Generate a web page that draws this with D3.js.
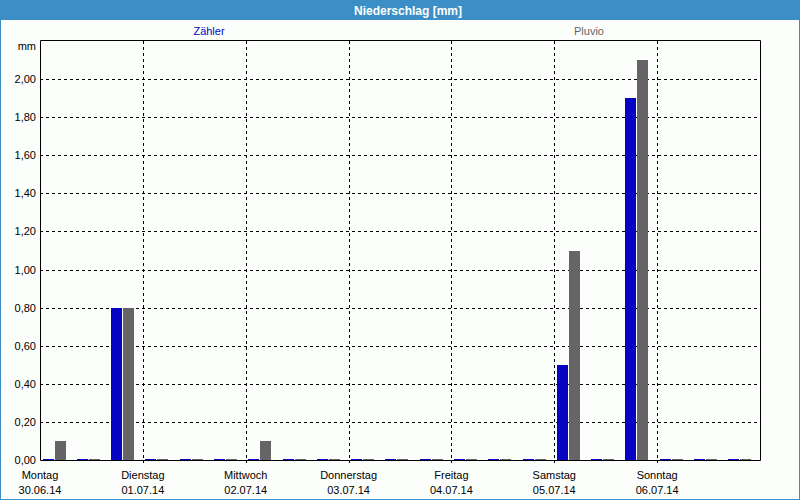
<!DOCTYPE html>
<html>
<head>
<meta charset="utf-8">
<script src="https://cdn.jsdelivr.net/npm/d3@7"></script>
<style>
  html, body { margin: 0; padding: 0; background: #fcfefc; }
  svg { display: block; font-family: "Liberation Sans", Arial, sans-serif; }
</style>
</head>
<body>
<svg id="chart" width="800" height="500"></svg>
<script>
// ---- data ----
const title = "Niederschlag [mm]";
const seriesNames = ["Zähler", "Pluvio"];
const days = ["Montag", "Dienstag", "Mittwoch", "Donnerstag", "Freitag", "Samstag", "Sonntag"];
const dates = ["30.06.14", "01.07.14", "02.07.14", "03.07.14", "04.07.14", "05.07.14", "06.07.14"];
const periods = ["00-08", "08-16", "16-24"];
const zaehler = [0, 0, 0.8,  0, 0, 0,  0, 0, 0,  0, 0, 0,  0, 0, 0,  0.5, 0, 1.9,  0, 0, 0];
const pluvio  = [0.1, 0, 0.8,  0, 0, 0,  0.1, 0, 0,  0, 0, 0,  0, 0, 0,  1.1, 0, 2.1,  0, 0, 0];
const yTicks = [0, 0.2, 0.4, 0.6, 0.8, 1.0, 1.2, 1.4, 1.6, 1.8, 2.0];
const yMax = 2.2;
const unit = "mm";

// ---- layout ----
const W = 800, H = 500;
const plot = { left: 40, top: 41, right: 760, bottom: 460 };
const colors = { zaehler: "#0404c2", pluvio: "#666467", bar: "#3b8fc6", bg: "#fcfefc" };

const svg = d3.select("#chart");

// background + title bar + frame
svg.append("rect").attr("x", 0).attr("y", 0).attr("width", W).attr("height", H).attr("fill", colors.bg);
svg.append("rect").attr("x", 0.5).attr("y", 0.5).attr("width", W - 1).attr("height", H - 1)
  .attr("fill", "none").attr("stroke", colors.bar).attr("stroke-width", 1);
svg.append("rect").attr("x", 0).attr("y", 0).attr("width", W).attr("height", 20).attr("fill", colors.bar);
svg.append("text").attr("x", W / 2 + 8).attr("y", 15).attr("text-anchor", "middle")
  .attr("fill", "#ffffff").attr("font-weight", "bold").attr("font-size", "12px").text(title);

// ---- scales ----
const slots = [];
days.forEach((d, i) => periods.forEach(p => slots.push(d + " " + p)));
const x = d3.scaleBand().domain(slots).range([plot.left, plot.right]).padding(0);
const xDay = d3.scaleLinear().domain([0, days.length]).range([plot.left, plot.right]);
const y = d3.scaleLinear().domain([0, yMax]).range([plot.bottom, plot.top]);

const loc = d3.formatLocale({ decimal: ",", thousands: ".", grouping: [3], currency: ["", "€"] });
const fmt = loc.format(".2f");

// ---- gridlines ----
const grid = svg.append("g").attr("stroke", "#000").attr("stroke-width", 1).attr("stroke-dasharray", "3,3");
grid.selectAll("line.h").data(yTicks.filter(t => t > 0)).join("line")
  .attr("x1", plot.left).attr("x2", plot.right)
  .attr("y1", d => Math.round(y(d)) + 0.5).attr("y2", d => Math.round(y(d)) + 0.5);
grid.selectAll("line.v").data(d3.range(1, days.length)).join("line")
  .attr("x1", d => Math.round(xDay(d)) + 0.5).attr("x2", d => Math.round(xDay(d)) + 0.5)
  .attr("y1", plot.top).attr("y2", plot.bottom + 3);

// ---- bars ----
const barW = 11, off = 3;
const bars = svg.append("g").attr("shape-rendering", "crispEdges");
function barH(v) { return Math.max(1, y(0) - y(v)); }
bars.selectAll("rect.z").data(zaehler).join("rect")
  .attr("x", (d, i) => Math.floor(x(slots[i]) + off))
  .attr("y", d => y(0) - barH(d))
  .attr("width", barW).attr("height", d => barH(d))
  .attr("fill", colors.zaehler);
bars.selectAll("rect.p").data(pluvio).join("rect")
  .attr("x", (d, i) => Math.floor(x(slots[i]) + off) + barW + 1)
  .attr("y", d => y(0) - barH(d))
  .attr("width", barW).attr("height", d => barH(d))
  .attr("fill", colors.pluvio);

// ---- frame ----
svg.append("path")
  .attr("d", `M${plot.left + 0.5},${plot.bottom + 0.5}V${plot.top - 0.5}H${plot.right + 0.5}V${plot.bottom + 0.5}H${plot.left + 0.5}`)
  .attr("fill", "none").attr("stroke", "#000").attr("stroke-width", 1);

// ---- y labels ----
const yl = svg.append("g").attr("font-size", "11px").attr("fill", "#000").attr("text-anchor", "end");
yl.selectAll("text").data(yTicks).join("text")
  .attr("x", 36).attr("y", d => Math.round(y(d)) + 4).text(d => fmt(d));
yl.append("text").attr("x", 36).attr("y", 50).text(unit);

// ---- x labels ----
const xl = svg.append("g").attr("font-size", "11px").attr("fill", "#000").attr("text-anchor", "middle");
xl.selectAll("text.d").data(days).join("text")
  .attr("x", (d, i) => xDay(i)).attr("y", 479).text(d => d);
xl.selectAll("text.t").data(dates).join("text")
  .attr("x", (d, i) => xDay(i)).attr("y", 494).text(d => d);

// ---- legend ----
svg.append("text").attr("x", 209).attr("y", 35).attr("text-anchor", "middle")
  .attr("font-size", "11px").attr("fill", colors.zaehler).text(seriesNames[0]);
svg.append("text").attr("x", 589).attr("y", 35).attr("text-anchor", "middle")
  .attr("font-size", "11px").attr("fill", colors.pluvio).text(seriesNames[1]);
</script>
</body>
</html>
